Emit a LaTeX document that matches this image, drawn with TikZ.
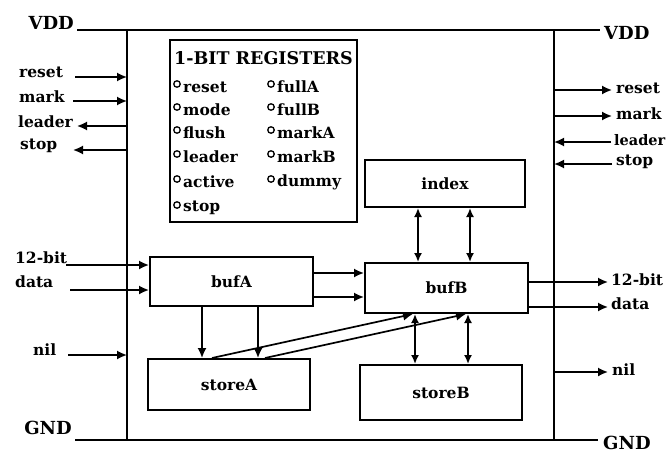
\documentclass[tikz,border=0pt]{standalone}
\usepackage{fontspec}
\setmainfont{DejaVu Serif}
\usetikzlibrary{arrows.meta}
\begin{document}
\begin{tikzpicture}[x=1pt,y=-1pt,
  lbl/.style={font=\fontsize{15.5}{17}\selectfont\bfseries, inner sep=0pt},
  big/.style={font=\fontsize{18}{20}\selectfont\bfseries, inner sep=0pt},
  blk/.style={draw, line width=2pt, font=\fontsize{15.5}{17}\selectfont\bfseries},
  ar/.style={-{Latex[length=10pt,width=9pt]}, line width=1.7pt},
  dar/.style={{Latex[length=9pt,width=8pt]}-{Latex[length=9pt,width=8pt]}, line width=1.7pt},
  wire/.style={line width=2.2pt},
  ring/.style={circle, draw, line width=1.3pt, inner sep=0pt, minimum size=6.5pt},
  regtxt/.style={font=\fontsize{15.5}{17}\selectfont\bfseries, inner sep=0pt, anchor=west}
]
\useasboundingbox (0,0) rectangle (668,460);
% frame
\coordinate (vddL) at (77,30);
\coordinate (vddR) at (600,30);
\coordinate (gndL) at (75,440);
\coordinate (gndR) at (598,440);
\coordinate (fTL) at (127,30);
\coordinate (fBL) at (127,440);
\coordinate (fTR) at (554,30);
\coordinate (fBR) at (554,440);
\draw[wire] (vddL) -- (vddR);
\draw[wire] (gndL) -- (gndR);
\draw[wire] (fTL) -- (fBL);
\draw[wire] (fTR) -- (fBR);
\node[big, anchor=east] (vddl) at (74,23) {VDD};
\node[big, anchor=west] (vddr) at (604,33) {VDD};
\node[big, anchor=east] (gndl) at (72,428) {GND};
\node[big, anchor=west] (gndr) at (603,443) {GND};

% register box
\node[draw, line width=2pt, minimum width=187pt, minimum height=182pt, inner sep=0pt] (regs) at (263.5,131) {};
\node[font=\fontsize{17.5}{19}\selectfont\bfseries, inner sep=0pt] (regt) at (263.5,58) {1-BIT REGISTERS};
\foreach \n/\t/\y in {r1/reset/84, r2/mode/107, r3/flush/130, r4/leader/154, r5/active/179, r6/stop/205}{
  \node[ring] (c\n) at (177,\y) {};
  \node[regtxt] (t\n) at (183,\y+3) {\t};
}
\foreach \n/\t/\y in {q1/fullA/84, q2/fullB/107, q3/markA/130, q4/markB/154, q5/dummy/179}{
  \node[ring] (c\n) at (271,\y) {};
  \node[regtxt] (t\n) at (277,\y+3) {\t};
}

% blocks
\node[blk, minimum width=160pt, minimum height=47pt] (index) at (445,183.5) {index};
\node[blk, minimum width=163pt, minimum height=49pt] (bufA) at (231.5,281.5) {bufA};
\node[blk, minimum width=163pt, minimum height=50pt] (bufB) at (446.5,288) {bufB};
\node[blk, minimum width=162pt, minimum height=51pt] (storeA) at (229,384.5) {storeA};
\node[blk, minimum width=162pt, minimum height=55pt] (storeB) at (441,392.5) {storeB};

% left signals
\node[lbl, anchor=west] (lreset) at (19,72) {reset};
\node[lbl, anchor=west] (lmark) at (19,97) {mark};
\node[lbl, anchor=west] (lleader) at (18,122) {leader};
\node[lbl, anchor=west] (lstop) at (20,146) {stop};
\node[lbl, anchor=west] (l12) at (15,258) {12-bit};
\node[lbl, anchor=west] (ldata) at (15,282) {data};
\node[lbl, anchor=west] (lnil) at (33,350) {nil};
\coordinate (a1) at (75,77);   \coordinate (b1) at (127,77);
\coordinate (a2) at (73,101);  \coordinate (b2) at (127,101);
\coordinate (a3) at (77,126);  \coordinate (b3) at (127,126);
\coordinate (a4) at (73,150);  \coordinate (b4) at (127,150);
\coordinate (a7) at (68,355);  \coordinate (b7) at (127,355);
\draw[ar] (a1) -- (b1);
\draw[ar] (a2) -- (b2);
\draw[ar] (b3) -- (a3);
\draw[ar] (b4) -- (a4);
\draw[ar] (a7) -- (b7);
\coordinate (a5) at (66,265);
\coordinate (a6) at (70,290);
\draw[ar] (a5) -- (a5 -| bufA.west);
\draw[ar] (a6) -- (a6 -| bufA.west);

% right signals
\node[lbl, anchor=west] (rreset) at (616,88) {reset};
\node[lbl, anchor=west] (rmark) at (616,114) {mark};
\node[lbl, anchor=west, font=\fontsize{14.5}{16}\selectfont\bfseries] (rleader) at (614,140) {leader};
\node[lbl, anchor=west] (rstop) at (616,162) {stop};
\node[lbl, anchor=west] (r12) at (611,280) {12-bit};
\node[lbl, anchor=west] (rdata) at (611,304) {data};
\node[lbl, anchor=west] (rnil) at (612,370) {nil};
\coordinate (c1) at (554,90);  \coordinate (d1) at (612,90);
\coordinate (c2) at (554,116); \coordinate (d2) at (612,116);
\coordinate (c3) at (554,142); \coordinate (d3) at (611,142);
\coordinate (c4) at (554,164); \coordinate (d4) at (612,164);
\coordinate (c7) at (554,372); \coordinate (d7) at (608,372);
\coordinate (d5) at (608,282);
\coordinate (d6) at (608,307);
\draw[ar] (c1) -- (d1);
\draw[ar] (c2) -- (d2);
\draw[ar] (d3) -- (c3);
\draw[ar] (d4) -- (c4);
\draw[ar] (c7) -- (d7);
\draw[ar] (d5 -| bufB.east) -- (d5);
\draw[ar] (d6 -| bufB.east) -- (d6);

% internal
\draw[ar] (bufA.east |- 0,273) -- (bufB.west |- 0,273);
\draw[ar] (bufA.east |- 0,297) -- (bufB.west |- 0,297);
\draw[dar] (index.south -| 418,0) -- (bufB.north -| 418,0);
\draw[dar] (index.south -| 470,0) -- (bufB.north -| 470,0);
\draw[ar] (bufA.south -| 202,0) -- (storeA.north -| 202,0);
\draw[ar] (bufA.south -| 258,0) -- (storeA.north -| 258,0);
\draw[ar] (storeA.north -| 212,0) -- (bufB.south -| 413,0);
\draw[ar] (storeA.north -| 265,0) -- (bufB.south -| 466,0);
\draw[dar] (bufB.south -| 415,0) -- (storeB.north -| 415,0);
\draw[dar] (bufB.south -| 468,0) -- (storeB.north -| 468,0);
\end{tikzpicture}
\end{document}
